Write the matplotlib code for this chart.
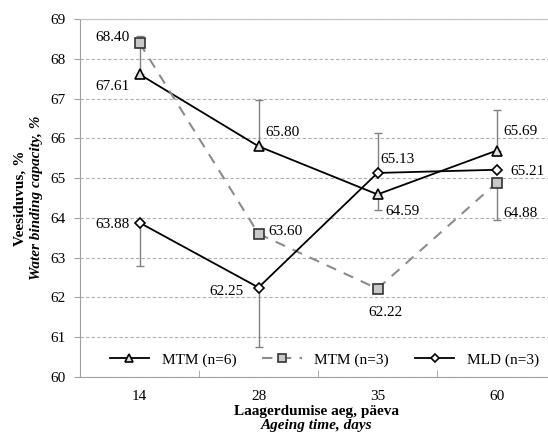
import numpy as np
import matplotlib.pyplot as plt

plt.rcParams['font.family'] = ['Liberation Serif', 'DejaVu Serif']

days = ['14', '28', '35', '60']
mtm6 = [67.61, 65.80, 64.59, 65.69]
mtm3 = [68.40, 63.60, 62.22, 64.88]
mld3 = [63.88, 62.25, 65.13, 65.21]
# one-sided error bars (lower, upper)
mtm6_err = [[0, 0, 0.40, 0], [0.96, 1.17, 0, 1.03]]
mtm3_err = [[0, 0, 0, 0.93], [0, 0, 0, 0]]
mld3_err = [[1.08, 1.50, 0, 0], [0, 0, 1.00, 0]]

x = np.arange(len(days))

fig = plt.figure(figsize=(5.48, 4.34), dpi=100)
ax = fig.add_axes([80/548, 57/434, 476/548, 358/434])

ekw = dict(ecolor='#808080', elinewidth=1, capsize=3, capthick=1)
ax.errorbar(x, mtm6, yerr=mtm6_err, fmt='none', **ekw)
ax.errorbar(x, mtm3, yerr=mtm3_err, fmt='none', **ekw)
ax.errorbar(x, mld3, yerr=mld3_err, fmt='none', **ekw)

ax.plot(x, mtm6, color='black', lw=1.3, marker='^', ms=7, mfc='#e0e0e0', mec='black',
        mew=1.2, label='MTM (n=6)', zorder=3)
ax.plot(x, mtm3, color='#8c8c8c', lw=1.5, ls=(0, (5, 4)), marker='s', ms=7,
        mfc='#c8c8c8', mec='#333333', mew=1.2, label='MTM (n=3)', zorder=3)
ax.plot(x, mld3, color='black', lw=1.3, marker='D', ms=5.5, mfc='white', mec='black',
        mew=1.2, label='MLD (n=3)', zorder=3)

fs = 11
# data labels
lab = [
    (0, mtm3[0], '68.40', -7, 4, 'right'),
    (0, mtm6[0], '67.61', -7, -9, 'right'),
    (1, mtm6[1], '65.80', 5, 10, 'left'),
    (2, mtm6[2], '64.59', 6, -12, 'left'),
    (3, mtm6[3], '65.69', 5, 14, 'left'),
    (0, mld3[0], '63.88', -7, -1, 'right'),
    (1, mld3[1], '62.25', -11, -3, 'right'),
    (2, mld3[2], '65.13', 2, 10, 'left'),
    (3, mld3[3], '65.21', 10, -1, 'left'),
    (1, mtm3[1], '63.60', 7, 2, 'left'),
    (2, mtm3[2], '62.22', 6, -17, 'center'),
    (3, mtm3[3], '64.88', 5, -22, 'left'),
]
for xi, yi, t, dx, dy, ha in lab:
    ax.annotate(t, (xi, yi), xytext=(dx, dy), textcoords='offset points',
                ha=ha, va='center', fontsize=fs)

ax.set_xlim(-0.5, 3.5)
ax.set_ylim(60, 69)
ax.set_yticks(np.arange(60, 70, 1))
ax.set_xticks(x)
ax.set_xticklabels(days)
ax.set_xticks(np.arange(-0.5, 4, 1), minor=True)
ax.tick_params(axis='x', which='major', length=0, labelsize=fs, pad=9)
ax.tick_params(axis='x', which='minor', length=5, color='#a0a0a0', direction='in')
ax.tick_params(axis='y', length=4, color='#a0a0a0', labelsize=fs, direction='out', pad=6)
ax.grid(axis='y', color='#b0b0b0', ls=(0, (3, 2)), lw=0.8)
ax.set_axisbelow(True)
ax.spines['right'].set_visible(False)
ax.spines['top'].set_color('#c0c0c0')
ax.spines['left'].set_color('#a0a0a0')
ax.spines['bottom'].set_color('#a0a0a0')

ax.legend(loc='lower center', bbox_to_anchor=(0.513, -0.01), ncol=3, frameon=False,
          fontsize=fs, handlelength=2.6, columnspacing=1.7, markerscale=0.75)

fig.text(20/548, 1 - 198/434, 'Veesiduvus, %', rotation=90, ha='center', va='center',
         fontsize=fs, fontweight='bold')
fig.text(37/548, 1 - 198/434, 'Water binding capacity, %', rotation=90, ha='center',
         va='center', fontsize=fs, fontweight='bold', fontstyle='italic')
fig.text(317/548, 1 - 411/434, 'Laagerdumise aeg, päeva', ha='center', va='center',
         fontsize=fs, fontweight='bold')
fig.text(317/548, 1 - 426/434, 'Ageing time, days', ha='center', va='center',
         fontsize=fs, fontweight='bold', fontstyle='italic')

fig.savefig('out.png', dpi=100)
